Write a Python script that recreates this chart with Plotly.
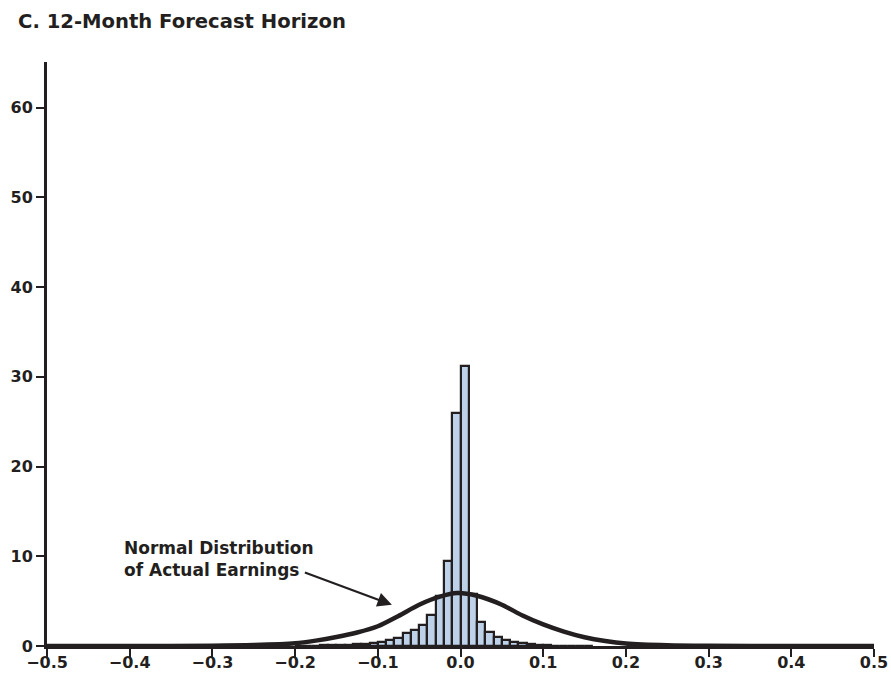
import plotly.graph_objects as go

# Histogram data (bin width 0.01)
bin_left = [-0.20, -0.19, -0.18, -0.17, -0.16, -0.15, -0.14, -0.13, -0.12, -0.11,
            -0.10, -0.09, -0.08, -0.07, -0.06, -0.05, -0.04, -0.03, -0.02, -0.01,
            0.00, 0.01, 0.02, 0.03, 0.04, 0.05, 0.06, 0.07, 0.08, 0.09,
            0.10, 0.11, 0.12, 0.13, 0.14, 0.15]
bin_values = [0.03, 0.04, 0.05, 0.07, 0.09, 0.12, 0.15, 0.2, 0.25, 0.3,
              0.45, 0.65, 0.9, 1.4, 1.75, 2.3, 3.45, 5.6, 9.5, 26.0,
              31.2, 5.8, 2.65, 1.6, 1.05, 0.67, 0.5, 0.3, 0.2, 0.12,
              0.08, 0.05, 0.04, 0.03, 0.02, 0.02]
bin_width = 0.01

# Normal distribution curve of actual earnings
curve_x = [-0.5, -0.4, -0.3, -0.25, -0.2, -0.175, -0.15, -0.125, -0.1, -0.075, -0.05, -0.025,
           -0.004, 0.02, 0.05, 0.075, 0.1, 0.125, 0.15, 0.175, 0.2, 0.25, 0.3, 0.4, 0.5]
curve_y = [0.0, 0.0, 0.03, 0.1, 0.3, 0.6, 1.0, 1.5, 2.2, 3.35, 4.6, 5.5,
           5.9, 5.6, 4.6, 3.4, 2.4, 1.6, 0.97, 0.55, 0.28, 0.08, 0.02, 0.0, 0.0]

x_ticks = [-0.5, -0.4, -0.3, -0.2, -0.1, 0.0, 0.1, 0.2, 0.3, 0.4, 0.5]
y_ticks = [0, 10, 20, 30, 40, 50, 60]

title_text = "C. 12-Month Forecast Horizon"
annot_text = "Normal Distribution<br>of Actual Earnings"

INK = "#231f20"
FONT = "DejaVu Sans"

W, H = 891, 677

centers = [b + bin_width / 2 for b in bin_left]

fig = go.Figure()
fig.add_trace(go.Bar(
    x=centers, y=bin_values, width=[bin_width] * len(centers),
    marker=dict(color="#bdd1e8", line=dict(color=INK, width=2.2)),
    hoverinfo="skip",
))
fig.add_trace(go.Scatter(
    x=curve_x, y=curve_y, mode="lines",
    line=dict(color=INK, width=4.5, shape="spline", smoothing=0.7),
    hoverinfo="skip",
))

fig.update_layout(
    width=W, height=H,
    margin=dict(l=47, r=17, t=62, b=31, autoexpand=False),
    paper_bgcolor="white", plot_bgcolor="white",
    showlegend=False,
    font=dict(family=FONT, color=INK, size=16),
    bargap=0,
    title=dict(text="<b>" + title_text + "</b>", x=18 / W, xanchor="left",
               y=1 - 21 / H, yanchor="middle",
               font=dict(size=19.6, family=FONT, color=INK)),
)
fig.update_xaxes(
    range=[-0.5, 0.5], tickvals=x_ticks,
    ticktext=["<b>" + (f"{v:.1f}".replace("-", "\u2212")) + "</b>" for v in x_ticks],
    showgrid=False, zeroline=False, automargin=False,
    showline=True, linecolor=INK, linewidth=3,
    ticks="outside", ticklen=8, tickwidth=2, tickcolor=INK,
    ticklabelstandoff=-8,
    tickfont=dict(size=16, family=FONT, color=INK),
)
fig.update_yaxes(
    range=[0, 65.1], tickvals=y_ticks,
    ticktext=["<b>" + str(v) + "</b>" for v in y_ticks],
    showgrid=False, zeroline=False, automargin=False,
    showline=True, linecolor=INK, linewidth=3,
    ticks="outside", ticklen=8, tickwidth=2, tickcolor=INK,
    tickfont=dict(size=16, family=FONT, color=INK),
)

fig.add_annotation(
    x=-0.083, y=4.6, ax=-0.19, ay=8.25, axref="x", ayref="y",
    xref="x", yref="y", text="", showarrow=True,
    arrowhead=2, arrowsize=1.3, arrowwidth=2.2, arrowcolor=INK,
)
fig.add_annotation(
    x=-0.409, y=9.7, xref="x", yref="y", xanchor="left", yanchor="middle",
    text="<b>" + annot_text + "</b>", showarrow=False, align="left",
    font=dict(size=17, family=FONT, color=INK),
)

fig.write_html("out.html",
               config={"displayModeBar": False},
               post_script="document.body.style.margin='0';document.body.style.overflow='hidden';")
